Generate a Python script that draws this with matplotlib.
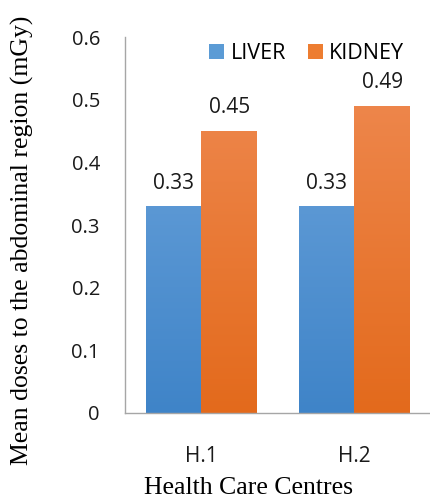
import matplotlib
matplotlib.use("Agg")
import matplotlib.pyplot as plt
import numpy as np
from matplotlib.colors import LinearSegmentedColormap
from matplotlib.patches import Patch

categories = ["H.1", "H.2"]
liver = [0.33, 0.33]
kidney = [0.45, 0.49]
series_names = ["LIVER", "KIDNEY"]
yticks = [0, 0.1, 0.2, 0.3, 0.4, 0.5, 0.6]

fig = plt.figure(figsize=(4.31, 5.01), dpi=100)
ax = fig.add_axes([125/431, 1-413/501, 306/431, (413-37)/501])

x = np.arange(len(categories))
w = 0.365
blue_top, blue_bot = "#72A8DE", "#3F84C8"
orng_top, orng_bot = "#F08C55", "#E36A1C"

def grad_bars(xs, vals, ctop, cbot):
    bars = ax.bar(xs, vals, width=w, color="none", edgecolor="none", zorder=2)
    cmap = LinearSegmentedColormap.from_list("g", [cbot, ctop])
    for b in bars:
        x0, y0 = b.get_x(), b.get_y()
        x1, y1 = x0 + b.get_width(), y0 + b.get_height()
        grad = np.linspace(0, 1, 256).reshape(-1, 1)
        im = ax.imshow(grad, cmap=cmap, aspect="auto", origin="lower",
                       extent=(x0, x1, 0, 0.6), zorder=2)
        im.set_clip_path(b)
    return bars

b1 = grad_bars(x - w/2, liver, blue_top, blue_bot)
b2 = grad_bars(x + w/2, kidney, orng_top, orng_bot)

lab_font = "Open Sans"
for bars, vals in ((b1, liver), (b2, kidney)):
    for b, v in zip(bars, vals):
        ax.text(b.get_x() + b.get_width()/2, v + 0.02, f"{v:.2f}",
                ha="center", va="bottom", fontsize=15, family=lab_font, color="#1a1a1a")

ax.set_xlim(-0.5, 1.5)
ax.set_ylim(0, 0.6)
ax.set_yticks(yticks)
ax.set_yticklabels([f"{t:g}" for t in yticks], family=lab_font, fontsize=14.5, color="#1a1a1a")
ax.set_xticks(x)
ax.set_xticklabels(categories, family=lab_font, fontsize=15, color="#1a1a1a")
ax.tick_params(axis="both", length=0)
ax.tick_params(axis="y", pad=18)
ax.tick_params(axis="x", pad=24)
for s in ("top", "right"):
    ax.spines[s].set_visible(False)
for s in ("left", "bottom"):
    ax.spines[s].set_color("#A6A6A6")
    ax.spines[s].set_linewidth(1.0)

ax.set_ylabel("Mean doses to the abdominal region (mGy)", family="Liberation Serif",
              fontsize=18.5, va="center")
ax.yaxis.set_label_coords((22 - 125) / 306, (413 - 240) / 376)
ax.set_xlabel("Health Care Centres", family="Liberation Serif", fontsize=18.5, va="center")
ax.xaxis.set_label_coords((249 - 125) / 306, (413 - 488) / 376)

handles = [Patch(facecolor="#5B9BD5"), Patch(facecolor="#ED7D31")]
leg = ax.legend(handles, series_names, loc="center right", bbox_to_anchor=(0.912, 0.955),
                ncol=2, frameon=False, prop={"family": lab_font, "size": 15.5},
                handlelength=0.7, handleheight=0.7, handletextpad=0.3, columnspacing=1.0,
                borderaxespad=0, borderpad=0)

fig.savefig("out.png", dpi=100)
